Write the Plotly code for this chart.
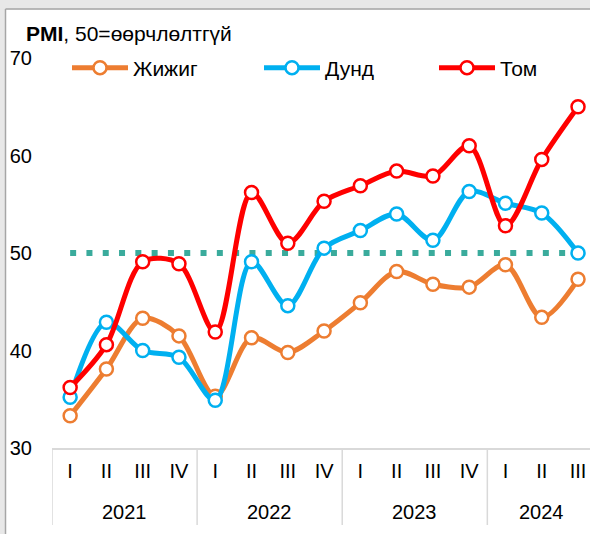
import plotly.graph_objects as go

years = ["2021", "2021", "2021", "2021", "2022", "2022", "2022", "2022",
         "2023", "2023", "2023", "2023", "2024", "2024", "2024"]
quarters = ["I", "II", "III", "IV", "I", "II", "III", "IV",
            "I", "II", "III", "IV", "I", "II", "III"]

small = [33.3, 38.1, 43.3, 41.5, 35.3, 41.3, 39.8, 42.0, 44.9, 48.1, 46.8, 46.5, 48.8, 43.4, 47.3]
medium = [35.2, 42.9, 40.0, 39.3, 34.9, 49.1, 44.6, 50.5, 52.3, 54.0, 51.3, 56.3, 55.1, 54.1, 50.0]
large = [36.2, 40.6, 49.1, 48.9, 41.9, 56.2, 51.0, 55.3, 56.9, 58.4, 57.9, 61.0, 52.8, 59.6, 65.0]
neutral = [50] * len(quarters)

series_names = ["Жижиг", "Дунд", "Том"]
series_colors = ["#ED7D31", "#00B0F0", "#FF0000"]
y_ticks = [30, 40, 50, 60, 70]

FONT = "Arial, Liberation Sans, sans-serif"

# geometry (pixels)
W, H = 590, 534
ML, MT, MB = 52, 58, 86
PW = W - ML
PH = H - MT - MB

def px_x(p):
    return (p - ML) / PW

def px_y(p):
    return (H - MB - p) / PH

cats = [f"{y} {q}" for y, q in zip(years, quarters)]

fig = go.Figure()
fig.add_trace(go.Scatter(
    x=cats, y=neutral, mode="lines", showlegend=False, hoverinfo="skip",
    line=dict(color="#3AAB9C", width=6, dash="6px,10.3px"),
))
legend_ids = ["legend", "legend2", "legend3"]
for name, vals, col, lg in zip(series_names, [small, medium, large], series_colors, legend_ids):
    fig.add_trace(go.Scatter(
        x=cats, y=vals, name=name, mode="lines+markers", legend=lg,
        line=dict(color=col, width=5, shape="spline", smoothing=0.9),
        marker=dict(size=13, color="white", line=dict(color=col, width=2.5)),
    ))

# year group labels and dividers from the year list
groups = []
for i, y in enumerate(years):
    if not groups or groups[-1][0] != y:
        groups.append([y, i, i])
    else:
        groups[-1][2] = i

annotations = [
    dict(text="<b>PMI</b>, 50=өөрчлөлтгүй", xref="paper", yref="paper",
         x=px_x(24), y=px_y(33), xanchor="left", yanchor="middle", showarrow=False,
         font=dict(size=21, family=FONT, color="black")),
]
shapes = [
    dict(type="rect", xref="paper", yref="paper", layer="below",
         x0=px_x(6), x1=px_x(W + 20), y0=px_y(H + 20), y1=px_y(9.5),
         fillcolor="white", line=dict(width=0)),
    dict(type="line", xref="paper", yref="paper", layer="below",
         x0=px_x(5.5), x1=px_x(5.5), y0=px_y(H + 20), y1=px_y(9),
         line=dict(color="#A6A6A6", width=1.5)),
    dict(type="line", xref="paper", yref="paper", layer="below",
         x0=px_x(5.5), x1=px_x(W + 20), y0=px_y(9), y1=px_y(9),
         line=dict(color="#A6A6A6", width=1.5)),
]
for y, a, b in groups:
    annotations.append(dict(text=y, xref="x", yref="paper", x=(a + b) / 2, y=px_y(512),
                            xanchor="center", yanchor="middle", showarrow=False,
                            font=dict(size=20, family=FONT, color="black")))
    shapes.append(dict(type="line", xref="x", yref="paper", x0=a - 0.5, x1=a - 0.5,
                       y0=px_y(H - MB), y1=px_y(525),
                       line=dict(color="#D9D9D9", width=1.5)))
shapes.append(dict(type="line", xref="x", yref="paper", x0=len(years) - 0.5, x1=len(years) - 0.5,
                   y0=px_y(H - MB), y1=px_y(525), line=dict(color="#D9D9D9", width=1.5)))

legend_x = [67, 259, 434]
leg_common = dict(orientation="h", xref="paper", yref="paper", y=px_y(68),
                  xanchor="left", yanchor="middle", itemwidth=56,
                  font=dict(size=21, family=FONT, color="black"),
                  bgcolor="rgba(0,0,0,0)")

fig.update_layout(
    template="none",
    width=W, height=H,
    margin=dict(l=ML, r=0, t=MT, b=MB, autoexpand=False),
    paper_bgcolor="#E8E8E8",
    plot_bgcolor="rgba(0,0,0,0)",
    font=dict(family=FONT, size=20, color="black"),
    showlegend=True,
    shapes=shapes,
    annotations=annotations,
    legend=dict(x=px_x(legend_x[0]), **leg_common),
    legend2=dict(x=px_x(legend_x[1]), **leg_common),
    legend3=dict(x=px_x(legend_x[2]), **leg_common),
    xaxis=dict(
        type="category", range=[-0.5, 14.33], automargin=False,
        tickvals=cats, ticktext=quarters,
        showline=True, linecolor="#D9D9D9", linewidth=1.5,
        showgrid=False, zeroline=False, ticks="", ticklabelstandoff=4,
        tickfont=dict(size=20, family=FONT, color="black"),
    ),
    yaxis=dict(
        range=[30, 70], tickvals=y_ticks, showgrid=False, zeroline=False,
        showline=False, ticks="", ticklabelstandoff=19, automargin=False,
        tickfont=dict(size=20, family=FONT, color="black"),
    ),
)

fig.write_html("out.html", config={"displayModeBar": False},
               post_script="document.body.style.margin='0';document.body.style.overflow='hidden';")
